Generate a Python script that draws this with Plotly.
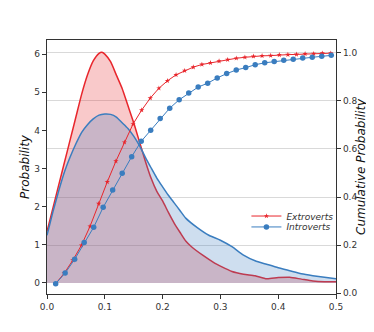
import plotly.graph_objs as go

# density curves (left axis)
x_dens_ext = [0.0, 0.01, 0.02, 0.03, 0.04, 0.05, 0.06, 0.07, 0.08, 0.09, 0.095, 0.10, 0.11,
              0.12, 0.13, 0.14, 0.15, 0.16, 0.17, 0.18, 0.19, 0.20, 0.21, 0.22, 0.23, 0.24,
              0.25, 0.27, 0.29, 0.30, 0.32, 0.34, 0.36, 0.38, 0.40, 0.42, 0.44, 0.46, 0.48, 0.50]
ext_density = [1.35, 1.95, 2.55, 3.15, 3.75, 4.35, 4.95, 5.45, 5.82, 6.02, 6.05, 6.0, 5.8,
               5.45, 5.1, 4.65, 4.2, 3.7, 3.2, 2.75, 2.4, 2.15, 1.85, 1.57, 1.33, 1.1,
               0.95, 0.72, 0.52, 0.44, 0.30, 0.23, 0.19, 0.11, 0.14, 0.15, 0.10, 0.05, 0.03, 0.03]

x_dens_int = [0.0, 0.01, 0.02, 0.03, 0.04, 0.05, 0.06, 0.07, 0.08, 0.09, 0.10, 0.11, 0.12,
              0.13, 0.14, 0.15, 0.16, 0.17, 0.18, 0.19, 0.20, 0.21, 0.22, 0.23, 0.24, 0.26,
              0.28, 0.30, 0.32, 0.34, 0.36, 0.38, 0.40, 0.42, 0.44, 0.46, 0.48, 0.50]
int_density = [1.25, 1.85, 2.4, 2.9, 3.3, 3.65, 3.95, 4.15, 4.3, 4.4, 4.43, 4.42, 4.35,
               4.2, 4.05, 3.85, 3.6, 3.3, 3.02, 2.75, 2.52, 2.3, 2.1, 1.9, 1.7, 1.45,
               1.25, 1.12, 0.95, 0.73, 0.58, 0.49, 0.40, 0.32, 0.24, 0.19, 0.15, 0.11]

# cumulative curves (right axis)
x_cum_ext = [0.0150, 0.0299, 0.0448, 0.0596, 0.0745, 0.0894, 0.1043, 0.1192, 0.1340,
             0.1489, 0.1638, 0.1787, 0.1936, 0.2084, 0.2233, 0.2382, 0.2531, 0.2680,
             0.2828, 0.2977, 0.3126, 0.3275, 0.3424, 0.3572, 0.3721, 0.3870, 0.4019,
             0.4168, 0.4316, 0.4465, 0.4614, 0.4763, 0.4910]
ext_cumulative = [0.039, 0.083, 0.137, 0.199, 0.278, 0.372, 0.463, 0.549, 0.628,
                  0.704, 0.762, 0.812, 0.853, 0.884, 0.909, 0.926, 0.941, 0.952,
                  0.959, 0.966, 0.972, 0.978, 0.982, 0.986, 0.988, 0.989, 0.992,
                  0.993, 0.994, 0.996, 0.997, 0.999, 0.999]

x_cum_int = [0.0150, 0.0314, 0.0479, 0.0643, 0.0808, 0.0972, 0.1136, 0.1301, 0.1465,
             0.1630, 0.1794, 0.1958, 0.2123, 0.2287, 0.2452, 0.2616, 0.2780, 0.2945,
             0.3109, 0.3274, 0.3438, 0.3602, 0.3767, 0.3931, 0.4096, 0.4260, 0.4424,
             0.4589, 0.4753, 0.4918]
int_cumulative = [0.039, 0.083, 0.141, 0.210, 0.274, 0.357, 0.429, 0.499, 0.568,
                  0.632, 0.678, 0.727, 0.770, 0.805, 0.833, 0.858, 0.874, 0.896,
                  0.914, 0.929, 0.939, 0.951, 0.959, 0.964, 0.970, 0.974, 0.979,
                  0.982, 0.986, 0.990]

RED = '#e8262c'
BLUE = '#3a7dbf'
FONT = 'DejaVu Sans'

fig = go.Figure()

fig.add_trace(go.Scatter(x=x_dens_ext, y=ext_density, mode='lines', line_shape='spline',
                         line=dict(color=RED, width=1.5, smoothing=0.6), fill='tozeroy',
                         fillcolor='rgba(232,38,44,0.25)', showlegend=False))
fig.add_trace(go.Scatter(x=x_dens_int, y=int_density, mode='lines', line_shape='spline',
                         line=dict(color=BLUE, width=1.5, smoothing=0.6), fill='tozeroy',
                         fillcolor='rgba(58,125,191,0.25)', showlegend=False))

fig.add_trace(go.Scatter(x=x_cum_ext, y=ext_cumulative, yaxis='y2', mode='lines+markers',
                         name='Extroverts', line=dict(color=RED, width=1),
                         marker=dict(symbol='star', size=4, color=RED), legend='legend'))
fig.add_trace(go.Scatter(x=x_cum_int, y=int_cumulative, yaxis='y2', mode='lines+markers',
                         name='Introverts', line=dict(color=BLUE, width=1),
                         marker=dict(symbol='circle', size=5.5, color=BLUE), legend='legend2'))

tickfont = dict(family=FONT, size=9, color='#333333')
titlefont = dict(family=FONT, size=12, color='#111111', style='italic')
legfont = dict(family=FONT, size=9, color='#333', style='italic')

# the page puts the figure 8px in from the top-left corner
fig.update_layout(
    width=366, height=324,
    margin=dict(l=39, r=38, t=32, b=38),
    paper_bgcolor='white', plot_bgcolor='white',
    xaxis=dict(range=[0, 0.5], tickvals=[0, 0.1, 0.2, 0.3, 0.4, 0.5], tickformat='.1f',
               ticks='outside', ticklen=4, tickcolor='#333', showline=True, linecolor='#333',
               linewidth=1.2, mirror=True, showgrid=False, zeroline=False, tickfont=tickfont,
               automargin=False),
    yaxis=dict(range=[-0.29, 6.37], tickvals=[0, 1, 2, 3, 4, 5, 6], ticks='outside',
               ticklen=4, tickcolor='#333', showline=True, linecolor='#333', linewidth=1.2,
               mirror=True, showgrid=False, zeroline=False, tickfont=tickfont,
               automargin=False,
               title=dict(text='Probability', font=titlefont, standoff=2)),
    yaxis2=dict(range=[-0.004, 1.054], overlaying='y', side='right',
                tickvals=[0, 0.2, 0.4, 0.6, 0.8, 1.0], tickformat='.1f', ticks='outside',
                ticklen=4, tickcolor='#333', showgrid=True, gridcolor='#d9d9d9', gridwidth=1,
                zeroline=False, showline=True, linecolor='#333', linewidth=1.2,
                tickfont=tickfont, automargin=False),
    legend=dict(x=0.69, y=0.307, xanchor='left', yanchor='middle',
                bgcolor='rgba(0,0,0,0)', font=legfont, itemwidth=30),
    legend2=dict(x=0.69, y=0.264, xanchor='left', yanchor='middle',
                 bgcolor='rgba(0,0,0,0)', font=legfont, itemwidth=30),
    annotations=[dict(text='Cumulative Probability', xref='paper', yref='paper',
                      x=1, y=0.5, xanchor='center', yanchor='middle', xshift=25,
                      textangle=-90, showarrow=False, font=titlefont)],
)

fig.write_html("out.html")
